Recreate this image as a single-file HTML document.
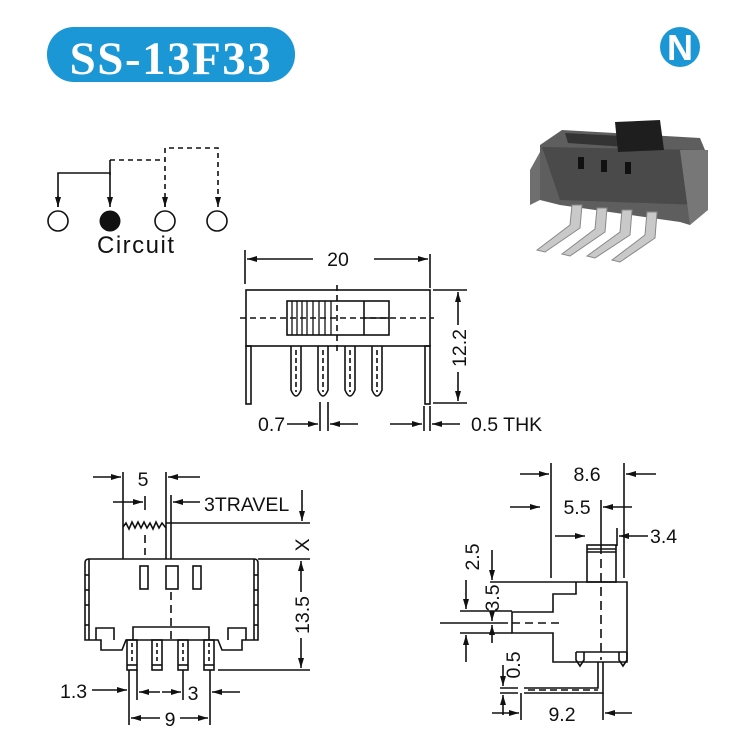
<!DOCTYPE html>
<html><head><meta charset="utf-8"><style>
html,body{margin:0;padding:0;background:#fff}
svg{display:block}
text{font-family:"Liberation Sans",sans-serif;fill:#111}
</style></head><body>
<svg width="735" height="744" viewBox="0 0 735 744" xmlns="http://www.w3.org/2000/svg">
<defs>
<marker id="a" viewBox="0 0 10 6" refX="10" refY="3" markerWidth="11" markerHeight="6" orient="auto" markerUnits="userSpaceOnUse"><path d="M0,0 L10,3 L0,6 Z" fill="#111"/></marker>
</defs>
<!-- title -->
<rect x="47" y="27" width="248" height="55" rx="27" fill="#1b97d5"/>
<text x="171" y="74" text-anchor="middle" style="font-family:'Liberation Serif',serif;font-weight:bold;font-size:47px;letter-spacing:1.5px;fill:#fff">SS-13F33</text>
<!-- logo -->
<circle cx="680" cy="47" r="20" fill="#1b97d5"/>
<text x="680" y="60" text-anchor="middle" style="font-family:'Liberation Sans',sans-serif;font-weight:bold;font-size:36px;fill:#fff">N</text>

<g stroke="#111" stroke-width="1.6" fill="none">
<!-- circuit -->
<polyline points="58,207 58,173 110,173 110,207" marker-end="url(#a)"/>
<line x1="58" y1="196" x2="58" y2="207" marker-end="url(#a)"/>
<line x1="110" y1="160" x2="110" y2="175"/>
<g stroke-dasharray="5,4">
<polyline points="110,160 165,160"/>
<polyline points="165,207 165,148 218,148 218,207"/>
</g>
<path d="M165,200 L165,207" marker-end="url(#a)"/>
<path d="M218,200 L218,207" marker-end="url(#a)"/>
<circle cx="58" cy="221" r="10"/>
<circle cx="165" cy="221" r="10"/>
<circle cx="217" cy="221" r="10"/>
</g>
<circle cx="110" cy="221" r="10.5" fill="#111"/>
<text x="97" y="253" style="font-size:24px;letter-spacing:1.5px">Circuit</text>

<!-- photo -->
<g>
<path d="M530,170 L540,152 L540,200 L530,205 Z" fill="#6f6f6f"/>
<path d="M540,145 L562,130 L700,138 L705,150 L705,205 L690,225 L680,222 L560,205 L540,200 Z" fill="#5e5e5e"/>
<path d="M542,147 L700,150 L700,205 L560,200 Z" fill="#4a4a4a"/>
<path d="M565,133 L640,137 L640,148 L568,143 Z" fill="#333"/>
<path d="M615,122 L660,120 L664,150 L618,152 Z" fill="#1e1e1e"/>
<path d="M680,150 L708,150 L708,210 L690,225 Z" fill="#777"/>
<rect x="578" y="157" width="6" height="12" fill="#111"/>
<rect x="601" y="160" width="6" height="12" fill="#111"/>
<rect x="625" y="162" width="6" height="12" fill="#111"/>
<g fill="#c9c9c9" stroke="#888" stroke-width="1">
<path d="M572,205 L582,205 L580,228 L545,252 L537,250 L570,225 Z"/>
<path d="M597,208 L607,208 L605,232 L570,256 L562,254 L595,229 Z"/>
<path d="M622,210 L632,210 L630,235 L595,258 L587,256 L620,232 Z"/>
<path d="M647,212 L657,212 L655,238 L620,262 L612,260 L645,235 Z"/>
</g>
</g>

<g stroke="#111" stroke-width="1.6" fill="none">
<!-- top view -->
<line x1="245" y1="250" x2="245" y2="284"/>
<line x1="430" y1="254" x2="430" y2="288"/>
<line x1="313" y1="259" x2="247" y2="259" marker-end="url(#a)"/>
<line x1="374" y1="259" x2="428" y2="259" marker-end="url(#a)"/>
<rect x="246" y="290" width="184" height="56"/>
<rect x="287" y="301" width="102" height="34"/>
<line x1="364" y1="301" x2="364" y2="335"/>
<line x1="364" y1="318" x2="389" y2="318"/>
<g stroke-width="1.3">
<line x1="292" y1="301" x2="292" y2="335"/><line x1="297" y1="301" x2="297" y2="335"/><line x1="302" y1="301" x2="302" y2="335"/><line x1="307" y1="301" x2="307" y2="335"/><line x1="313" y1="301" x2="313" y2="335"/><line x1="319" y1="301" x2="319" y2="335"/><line x1="325" y1="301" x2="325" y2="335"/><line x1="331" y1="301" x2="331" y2="335"/>
</g>
<line x1="240" y1="318" x2="434" y2="318" stroke-dasharray="6,4"/>
<line x1="337" y1="285" x2="337" y2="352" stroke-dasharray="6,4"/>
<rect x="246" y="346" width="5" height="58"/>
<rect x="425" y="346" width="5" height="58"/>
<path d="M291,346 L291,390 Q296,402 301,390 L301,346"/>
<path d="M318,346 L318,390 Q323,402 328,390 L328,346"/>
<path d="M345,346 L345,390 Q350,402 355,390 L355,346"/>
<path d="M372,346 L372,390 Q377,402 382,390 L382,346"/>
<g stroke-dasharray="5,3"><line x1="296" y1="350" x2="296" y2="392"/><line x1="323" y1="350" x2="323" y2="392"/><line x1="350" y1="350" x2="350" y2="392"/><line x1="377" y1="350" x2="377" y2="392"/></g>
<line x1="433" y1="290" x2="467" y2="290"/>
<line x1="433" y1="403" x2="467" y2="403"/>
<line x1="458" y1="325" x2="458" y2="292" marker-end="url(#a)"/>
<line x1="458" y1="372" x2="458" y2="401" marker-end="url(#a)"/>
<line x1="320" y1="402" x2="320" y2="431"/><line x1="328" y1="402" x2="328" y2="431"/>
<line x1="287" y1="424" x2="318" y2="424" marker-end="url(#a)"/>
<line x1="358" y1="424" x2="330" y2="424" marker-end="url(#a)"/>
<line x1="424" y1="406" x2="424" y2="431"/><line x1="430" y1="406" x2="430" y2="431"/>
<line x1="390" y1="424" x2="422" y2="424" marker-end="url(#a)"/>
<line x1="460" y1="424" x2="432" y2="424" marker-end="url(#a)"/>

<!-- front view -->
<line x1="123" y1="472" x2="123" y2="559"/>
<line x1="166" y1="472" x2="166" y2="524"/>
<line x1="93" y1="477" x2="121" y2="477" marker-end="url(#a)"/>
<line x1="200" y1="477" x2="168" y2="477" marker-end="url(#a)"/>
<line x1="171" y1="495" x2="171" y2="559"/>
<line x1="113" y1="502" x2="143" y2="502" marker-end="url(#a)"/>
<line x1="200" y1="502" x2="173" y2="502" marker-end="url(#a)"/>
<line x1="145" y1="496" x2="145" y2="510"/>
<line x1="145" y1="535" x2="145" y2="555" stroke-dasharray="8,5"/>
<line x1="166" y1="524" x2="166" y2="559"/>
<polyline points="123,527 126,523 129,529 132,522 135,528 138,522 141,528 144,522 147,528 150,523 153,529 156,522 159,528 162,523 166,528"/>
<line x1="166" y1="523" x2="310" y2="523"/>
<line x1="302" y1="490" x2="302" y2="521" marker-end="url(#a)"/>
<path d="M88,559 L254,559 Q258,559 258,563 L258,640 L242,640 L242,650 L222,650 L218,640 L126,640 L122,650 L101,650 L101,640 L85,640 L85,563 Q85,559 89,559 Z"/>
<line x1="89" y1="559" x2="89" y2="640"/><line x1="254" y1="559" x2="254" y2="640"/>
<line x1="85" y1="575" x2="89" y2="575"/><line x1="85" y1="590" x2="89" y2="590"/><line x1="85" y1="605" x2="89" y2="605"/><line x1="85" y1="625" x2="89" y2="625"/>
<line x1="254" y1="575" x2="258" y2="575"/><line x1="254" y1="590" x2="258" y2="590"/><line x1="254" y1="605" x2="258" y2="605"/><line x1="254" y1="625" x2="258" y2="625"/>
<polyline points="96,640 96,628 114,628 114,640"/>
<polyline points="228,640 228,628 246,628 246,640"/>
<polyline points="133,640 133,627 209,627 209,640"/>
<rect x="140" y="566" width="8" height="23"/>
<rect x="166" y="566" width="12" height="23"/>
<rect x="193" y="566" width="8" height="23"/>
<line x1="171" y1="592" x2="171" y2="640" stroke-dasharray="8,5"/>
<rect x="127" y="640" width="10" height="30"/><rect x="152" y="640" width="10" height="30"/><rect x="178" y="640" width="10" height="30"/><rect x="204" y="640" width="10" height="30"/>
<g stroke-dasharray="4,3"><line x1="132" y1="643" x2="132" y2="664"/><line x1="157" y1="643" x2="157" y2="664"/><line x1="183" y1="643" x2="183" y2="664"/><line x1="209" y1="643" x2="209" y2="664"/></g>
<line x1="127" y1="665" x2="137" y2="665"/><line x1="152" y1="665" x2="162" y2="665"/><line x1="178" y1="665" x2="188" y2="665"/><line x1="204" y1="665" x2="214" y2="665"/>
<line x1="258" y1="559" x2="310" y2="559"/>
<line x1="218" y1="670" x2="310" y2="670"/>
<line x1="301" y1="592" x2="301" y2="561" marker-end="url(#a)"/>
<line x1="301" y1="638" x2="301" y2="668" marker-end="url(#a)"/>
<line x1="129" y1="670" x2="129" y2="725"/><line x1="137" y1="670" x2="137" y2="700"/>
<line x1="183" y1="670" x2="183" y2="700"/><line x1="210" y1="670" x2="210" y2="725"/>
<line x1="92" y1="690" x2="127" y2="690" marker-end="url(#a)"/>
<line x1="160" y1="692" x2="139" y2="692" marker-end="url(#a)"/>
<line x1="162" y1="692" x2="181" y2="692" marker-end="url(#a)"/>
<line x1="240" y1="692" x2="212" y2="692" marker-end="url(#a)"/>
<line x1="160" y1="718" x2="131" y2="718" marker-end="url(#a)"/>
<line x1="180" y1="718" x2="208" y2="718" marker-end="url(#a)"/>

<!-- side view -->
<line x1="551" y1="463" x2="551" y2="578"/>
<line x1="624" y1="463" x2="624" y2="578"/>
<line x1="520" y1="474" x2="549" y2="474" marker-end="url(#a)"/>
<line x1="656" y1="474" x2="626" y2="474" marker-end="url(#a)"/>
<line x1="510" y1="507" x2="540" y2="507" marker-end="url(#a)"/>
<line x1="632" y1="507" x2="603" y2="507" marker-end="url(#a)"/>
<line x1="601" y1="500" x2="601" y2="545"/>
<line x1="555" y1="536" x2="585" y2="536" marker-end="url(#a)"/>
<line x1="617" y1="528" x2="617" y2="546"/>
<line x1="648" y1="536" x2="619" y2="536" marker-end="url(#a)"/>
<rect x="587" y="545" width="29" height="37"/>
<line x1="587" y1="549" x2="616" y2="549"/><line x1="587" y1="552" x2="616" y2="552"/>
<polyline points="490,582 627,582 627,662 553,662 553,633 512,633 512,612 553,612 553,594 576,594 576,582"/>
<line x1="576" y1="652" x2="627" y2="652"/>
<path d="M576,652 L576,660 L580,666 L584,660 L584,652"/>
<path d="M619,652 L619,660 L623,666 L627,660 L627,652"/>
<line x1="601" y1="545" x2="601" y2="660" stroke-dasharray="9,5"/>
<line x1="492" y1="550" x2="492" y2="580" marker-end="url(#a)"/>
<line x1="460" y1="611" x2="512" y2="611"/>
<line x1="460" y1="633" x2="512" y2="633"/>
<line x1="466" y1="580" x2="466" y2="609" marker-end="url(#a)"/>
<line x1="466" y1="662" x2="466" y2="635" marker-end="url(#a)"/>
<line x1="440" y1="623" x2="508" y2="623"/>
<line x1="512" y1="623" x2="560" y2="623" stroke-dasharray="8,5"/>
<line x1="492" y1="612" x2="492" y2="621" marker-end="url(#a)"/>
<line x1="492" y1="643" x2="492" y2="625" marker-end="url(#a)"/>
<polyline points="598,662 598,688 524,688"/>
<polyline points="603,662 603,693 524,693"/>
<line x1="528" y1="690" x2="598" y2="690" stroke-dasharray="7,4"/>
<line x1="500" y1="688" x2="518" y2="688"/><line x1="500" y1="693" x2="518" y2="693"/>
<line x1="503" y1="665" x2="503" y2="686" marker-end="url(#a)"/>
<line x1="503" y1="715" x2="503" y2="695" marker-end="url(#a)"/>
<line x1="521" y1="693" x2="521" y2="720"/>
<line x1="603" y1="693" x2="603" y2="720"/>
<line x1="492" y1="713" x2="519" y2="713" marker-end="url(#a)"/>
<line x1="632" y1="713" x2="605" y2="713" marker-end="url(#a)"/>
</g>

<g style="font-size:19.5px">
<text x="338" y="266" text-anchor="middle">20</text>
<text transform="translate(466,348) rotate(-90)" text-anchor="middle">12.2</text>
<text x="258" y="431">0.7</text>
<text x="471" y="431">0.5 THK</text>
<text x="143" y="486" text-anchor="middle">5</text>
<text x="204" y="511">3TRAVEL</text>
<text transform="translate(309,545) rotate(-90)" text-anchor="middle">X</text>
<text transform="translate(309,615) rotate(-90)" text-anchor="middle">13.5</text>
<text x="60" y="698">1.3</text>
<text x="193" y="700" text-anchor="middle">3</text>
<text x="170" y="726" text-anchor="middle">9</text>
<text x="587" y="481" text-anchor="middle">8.6</text>
<text x="577" y="514" text-anchor="middle">5.5</text>
<text x="650" y="543">3.4</text>
<text transform="translate(479,557) rotate(-90)" text-anchor="middle">2.5</text>
<text transform="translate(499,598) rotate(-90)" text-anchor="middle">3.5</text>
<text transform="translate(520,665) rotate(-90)" text-anchor="middle">0.5</text>
<text x="562" y="721" text-anchor="middle">9.2</text>
</g>
</svg>
</body></html>
